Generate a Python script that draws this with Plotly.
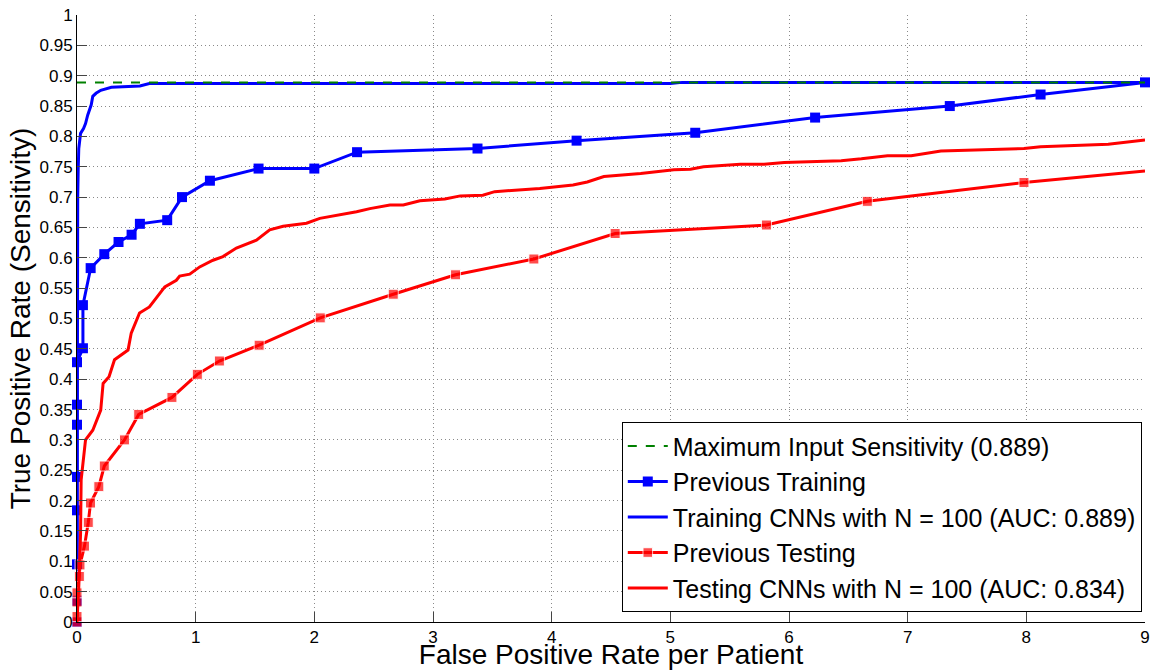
import plotly.graph_objects as go

max_sens = 0.889

prev_train_fpr = [0, 0, 0, 0, 0, 0, 0, 0, 0.05, 0.05, 0.115, 0.23, 0.35, 0.46, 0.53,
                  0.76, 0.885, 1.12, 1.53, 2.0, 2.36, 3.375, 4.21, 5.21, 6.22, 7.355, 8.12, 9.0]
prev_train_tpr = [0, 0.035, 0.095, 0.184, 0.239, 0.325, 0.358, 0.428, 0.451, 0.522, 0.583,
                  0.606, 0.626, 0.638, 0.656, 0.662, 0.70, 0.727, 0.747, 0.747, 0.774, 0.780,
                  0.793, 0.806, 0.831, 0.850, 0.869, 0.889]

cnn_train_fpr = [0, 0, 0.003, 0.006, 0.01, 0.015, 0.03, 0.055, 0.072, 0.09, 0.12, 0.133,
                 0.16, 0.20, 0.29, 0.415, 0.53, 0.61, 2.0, 5.0, 5.1, 9.0]
cnn_train_tpr = [0, 0.60, 0.65, 0.70, 0.745, 0.78, 0.805, 0.813, 0.821, 0.835, 0.852, 0.866,
                 0.871, 0.876, 0.881, 0.882, 0.883, 0.887, 0.887, 0.887, 0.889, 0.889]

prev_test_fpr = [0, 0, 0, 0, 0.02, 0.025, 0.063, 0.095, 0.114, 0.184, 0.23, 0.40, 0.52,
                 0.80, 1.014, 1.20, 1.535, 2.05, 2.665, 3.19, 3.85, 4.535, 5.81, 6.66, 7.98, 9.0]
prev_test_tpr = [0, 0.009, 0.033, 0.048, 0.075, 0.094, 0.125, 0.164, 0.196, 0.223, 0.257,
                 0.30, 0.342, 0.370, 0.408, 0.430, 0.456, 0.501, 0.540, 0.572, 0.598, 0.640,
                 0.654, 0.693, 0.724, 0.743]

cnn_test_fpr = [0, 0.015, 0.03, 0.035, 0.072, 0.133, 0.20, 0.22, 0.27, 0.316, 0.43, 0.457,
                0.527, 0.61, 0.74, 0.837, 0.865, 0.95, 1.034, 1.146, 1.23, 1.343, 1.512,
                1.624, 1.737, 1.934, 2.046, 2.19, 2.356, 2.468, 2.637, 2.75, 2.89, 3.1, 3.23,
                3.42, 3.52, 3.90, 4.18, 4.30, 4.44, 4.75, 5.03, 5.17, 5.28, 5.59, 5.79, 5.96,
                6.44, 6.61, 6.83, 7.03, 7.28, 7.98, 8.12, 8.69, 9.0]
cnn_test_tpr = [0, 0.058, 0.146, 0.234, 0.30, 0.316, 0.349, 0.393, 0.404, 0.432, 0.448,
                0.476, 0.509, 0.519, 0.552, 0.563, 0.570, 0.573, 0.585, 0.596, 0.602, 0.616,
                0.629, 0.646, 0.652, 0.657, 0.665, 0.670, 0.676, 0.681, 0.687, 0.687, 0.694,
                0.697, 0.702, 0.703, 0.709, 0.714, 0.720, 0.725, 0.734, 0.739, 0.745, 0.746,
                0.750, 0.754, 0.754, 0.757, 0.760, 0.763, 0.768, 0.768, 0.776, 0.780, 0.783,
                0.787, 0.794]

y_ticks = [i * 0.05 for i in range(21)]
y_labels = ["0", "0.05", "0.1", "0.15", "0.2", "0.25", "0.3", "0.35", "0.4", "0.45", "0.5",
            "0.55", "0.6", "0.65", "0.7", "0.75", "0.8", "0.85", "0.9", "0.95", "1"]

BLUE = "#0000ff"
RED = "#ff0000"
GREEN = "#008000"

fig = go.Figure()

fig.add_trace(go.Scatter(
    x=prev_train_fpr, y=prev_train_tpr, mode="lines+markers",
    name="Previous Training", legendrank=2, cliponaxis=False,
    line=dict(color=BLUE, width=3), marker=dict(symbol="square", size=10, color=BLUE),
))
fig.add_trace(go.Scatter(
    x=cnn_train_fpr, y=cnn_train_tpr, mode="lines",
    name="Training CNNs with N = 100 (AUC: 0.889)", legendrank=3,
    line=dict(color=BLUE, width=3),
))
# last point of the previous testing curve has no marker (it sits on the border)
test_sizes = [10] * (len(prev_test_fpr) - 1) + [0]
fig.add_trace(go.Scatter(
    x=prev_test_fpr, y=prev_test_tpr, mode="lines+markers",
    name="Previous Testing", legendrank=4, cliponaxis=False,
    line=dict(color=RED, width=3), marker=dict(symbol="square", size=test_sizes, color=RED),
))
fig.add_trace(go.Scatter(
    x=cnn_test_fpr, y=cnn_test_tpr, mode="lines",
    name="Testing CNNs with N = 100 (AUC: 0.834)", legendrank=5,
    line=dict(color=RED, width=3),
))
fig.add_trace(go.Scatter(
    x=[0, 9], y=[max_sens, max_sens], mode="lines",
    name="Maximum Input Sensitivity (0.889)", legendrank=1,
    line=dict(color=GREEN, width=2, dash="dash"),
))

fig.update_layout(
    width=1151, height=670,
    margin=dict(l=77, r=6, t=15, b=48),
    paper_bgcolor="white", plot_bgcolor="white",
    font=dict(family="Liberation Sans, Arial, sans-serif", color="black", size=17),
    legend=dict(
        x=0.997, y=0.016, xanchor="right", yanchor="bottom",
        bgcolor="white", bordercolor="black", borderwidth=1,
        font=dict(size=25), itemwidth=40, tracegroupgap=0,
    ),
    showlegend=True,
)

grid = dict(showgrid=True, gridcolor="#8a8a8a", griddash="1px,3px", gridwidth=1)

fig.update_xaxes(
    range=[0, 9], tickvals=list(range(10)), ticks="inside", ticklen=10,
    showline=True, linecolor="black", linewidth=1,
    zeroline=False, automargin=False, **grid,
    title=dict(text="False Positive Rate per Patient", font=dict(size=28), standoff=0),
)
fig.update_yaxes(
    range=[0, 1], tickvals=y_ticks, ticktext=y_labels, ticks="inside", ticklen=10,
    showline=True, linecolor="black", linewidth=1,
    zeroline=False, automargin=False, **grid,
    title=dict(text="True Positive Rate (Sensitivity)", font=dict(size=28), standoff=0),
)

# drop the browser's default page margin so the figure sits at the window's corner
fig.write_html(
    "out.html",
    config={"displayModeBar": False},
    post_script="document.body.style.margin = '0px';",
)
